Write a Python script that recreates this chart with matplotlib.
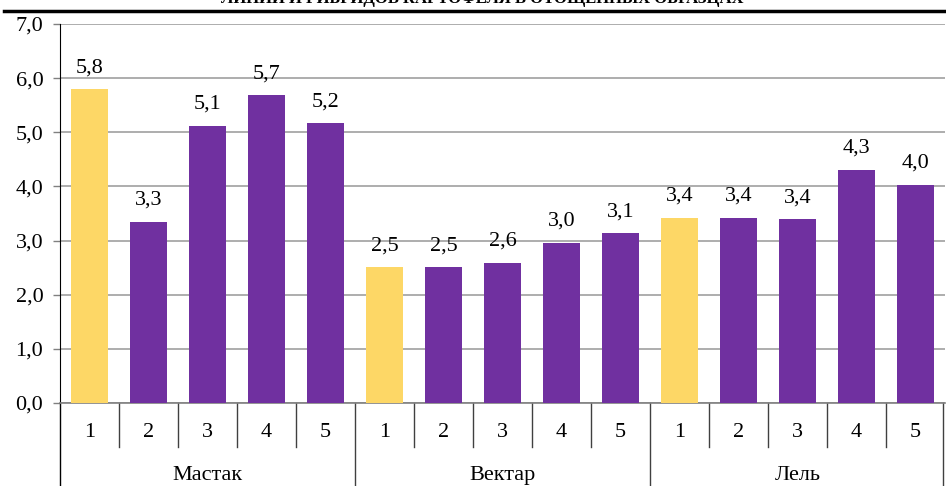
import matplotlib.pyplot as plt
from matplotlib.lines import Line2D
import matplotlib.transforms as mtransforms

plt.rcParams['font.family'] = ['Liberation Serif', 'DejaVu Serif']

# data
groups = ['Мастак', 'Вектар', 'Лель']
items = ['1', '2', '3', '4', '5']
values_mastak = [5.8, 3.35, 5.12, 5.69, 5.17]
values_vektar = [2.51, 2.51, 2.59, 2.96, 3.14]
values_lel = [3.42, 3.42, 3.40, 4.31, 4.03]
labels_mastak = ['5,8', '3,3', '5,1', '5,7', '5,2']
labels_vektar = ['2,5', '2,5', '2,6', '3,0', '3,1']
labels_lel = ['3,4', '3,4', '3,4', '4,3', '4,0']
yticks = [0, 1, 2, 3, 4, 5, 6, 7]
title = 'ЛИНИЙ И ГИБРИДОВ КАРТОФЕЛЯ В ОТОЩЕННЫХ ОБРАЗЦАХ'

yellow = '#FDD766'
purple = '#7030A0'
fs = 16

values = values_mastak + values_vektar + values_lel
labels = labels_mastak + labels_vektar + labels_lel
colors = ([yellow] + [purple] * 4) * 3
x = list(range(len(values)))

fig = plt.figure(figsize=(9.46, 4.86), dpi=100)
ax = fig.add_axes([60 / 946, 83 / 486, 885 / 946, 379 / 486])

ax.bar(x, values, width=0.64, color=colors, zorder=3)
for xi, v, lab in zip(x, values, labels):
    ax.annotate(lab, (xi, v), xytext=(0, 8.5), textcoords='offset points',
                ha='center', va='bottom', fontsize=fs)

ax.set_xlim(-0.5, len(values) - 0.5)
ax.set_ylim(0, 7)
ax.set_yticks(yticks)
ax.set_yticklabels(['%d,0' % t for t in yticks], fontsize=fs)
ax.yaxis.grid(True, color='#a0a0a0', linewidth=1.2, zorder=0)
ax.tick_params(axis='y', length=5, width=1, color='#808080', pad=7)
ax.set_xticks([])
for s in ['top', 'right']:
    ax.spines[s].set_visible(False)
ax.spines['left'].set_color('black')
ax.spines['bottom'].set_color('#808080')
ax.spines['bottom'].set_linewidth(1.2)

# category axis with two levels
trans = mtransforms.blended_transform_factory(ax.transData, ax.transAxes)
for i in range(len(values)):
    ax.text(i, -0.077, items[i % 5], transform=trans, ha='center', va='center',
            fontsize=fs)
for b in range(1, len(values)):
    bottom = -0.25 if b % 5 == 0 else -0.116
    ax.plot([b - 0.5, b - 0.5], [0, bottom], transform=trans, color='#404040',
            linewidth=1, clip_on=False)
ax.plot([len(values) - 0.53] * 2, [0, -0.25], transform=trans, color='#404040',
        linewidth=1, clip_on=False)
ax.plot([-0.5, -0.5], [0, -0.25], transform=trans, color='black',
        linewidth=1, clip_on=False)
for g, name in enumerate(groups):
    ax.text(g * 5 + 2, -0.19, name, transform=trans, ha='center', va='center',
            fontsize=fs)

# cut-off title and rule from the page above
fig.text(482 / 946, 1 - 3 / 486, title, ha='center', va='baseline',
         fontsize=12, fontweight='bold')
fig.add_artist(Line2D([4 / 946, 1], [1 - 11.5 / 486] * 2, color='black',
                      linewidth=2.5, transform=fig.transFigure))

fig.savefig('out.png', dpi=100)
